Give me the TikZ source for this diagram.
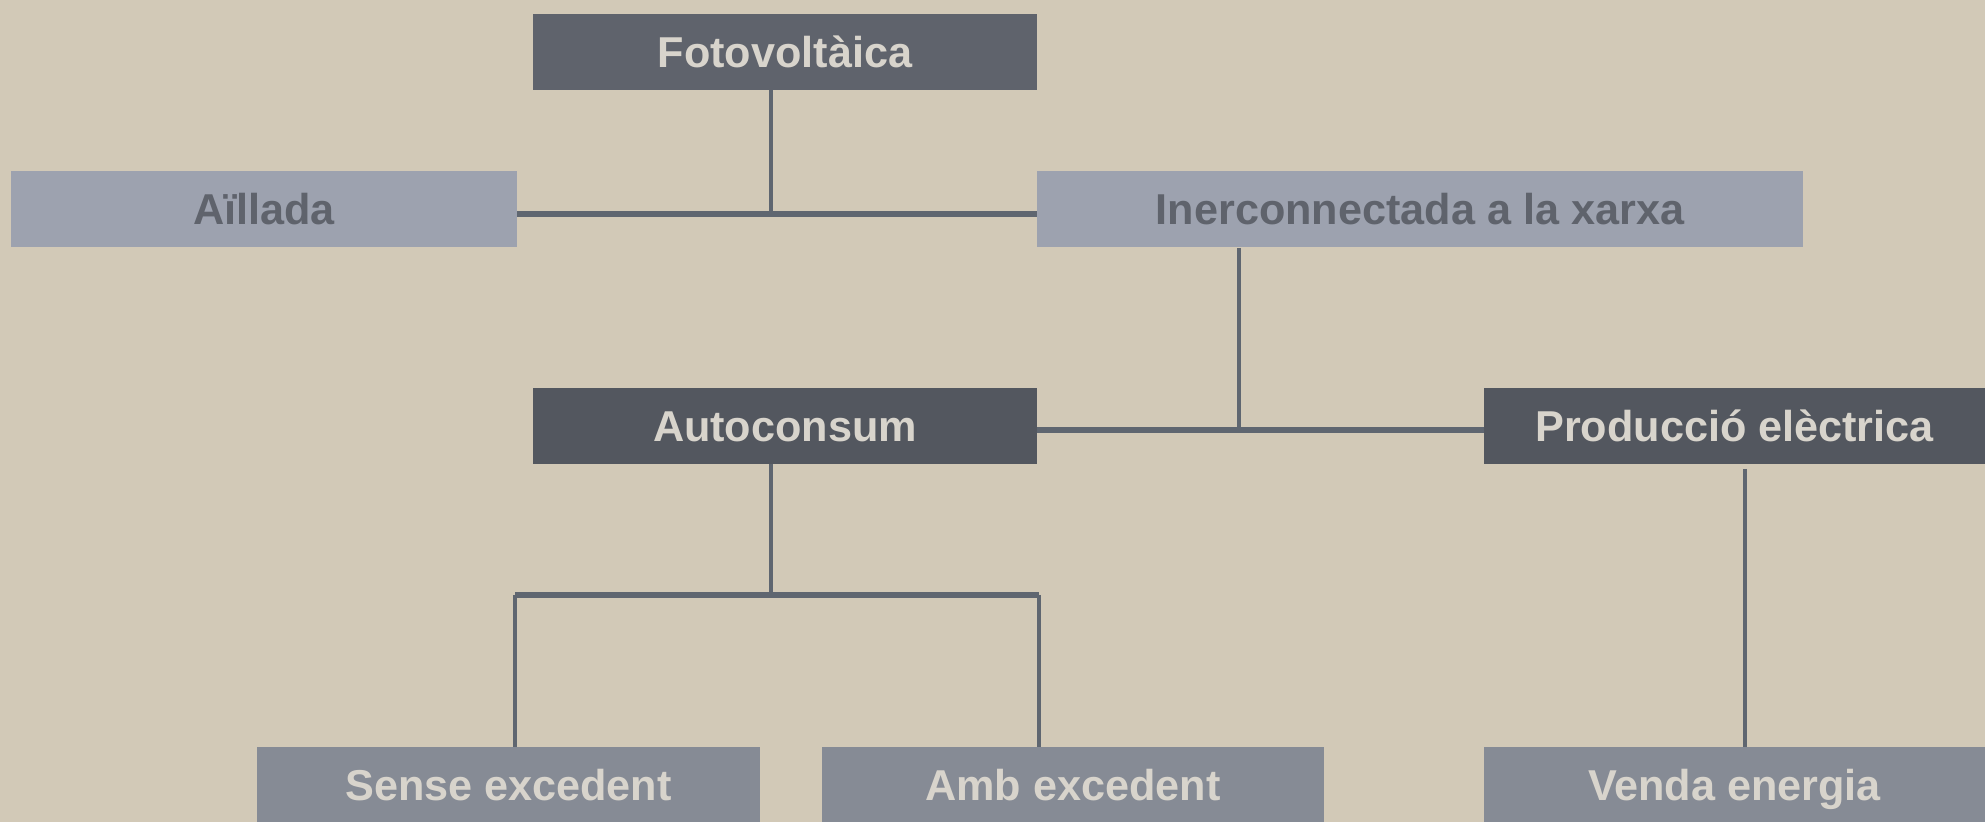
\documentclass[tikz,border=0pt]{standalone}
\usepackage{fontspec}
\setmainfont{Liberation Sans}
\definecolor{bg}{HTML}{D2C9B7}
\definecolor{darkA}{HTML}{5F636C}
\definecolor{darkB}{HTML}{53575F}
\definecolor{lightbox}{HTML}{9DA2AF}
\definecolor{midbox}{HTML}{868B95}
\definecolor{lighttext}{HTML}{D8D4CC}
\definecolor{linec}{HTML}{5F6670}
\begin{document}
\begin{tikzpicture}[x=0.5pt,y=-0.5pt,
  box/.style={rectangle,inner sep=0pt,minimum height=38pt,text height=15.5pt,text depth=0pt,font=\fontsize{21.6}{24}\selectfont\bfseries},
  topbox/.style={box,fill=darkA,text=lighttext},
  darkbox/.style={box,fill=darkB,text=lighttext},
  lbox/.style={box,fill=lightbox,text=darkA},
  mbox/.style={box,fill=midbox,text=lighttext},
  hline/.style={draw=linec,line width=2.6pt},
  vline/.style={draw=linec,line width=2pt}]
\fill[bg] (0,0) rectangle (1985,822);
\useasboundingbox (0,0) rectangle (1985,822);
\node[topbox,minimum width=252pt] (foto) at (785,52) {Fotovoltàica};
\node[lbox,minimum width=253pt] (aill) at (264,209.5) {Aïllada};
\node[lbox,minimum width=383pt] (iner) at (1420,209.5) {Inerconnectada a la xarxa};
\node[darkbox,minimum width=252pt] (auto) at (785,426) {Autoconsum};
\node[darkbox,minimum width=250.5pt] (prod) at (1734.5,426) {Producció elèctrica};
\node[mbox,minimum width=251.5pt] (sense) at (508.5,785) {Sense excedent};
\node[mbox,minimum width=251pt] (amb) at (1073,785) {Amb excedent};
\node[mbox,minimum width=250.5pt] (venda) at (1734.5,785) {Venda energia};
\coordinate (j1) at (771,214);
\coordinate (j2) at (1239,430);
\coordinate (j3) at (771,595);
\coordinate (jl) at (515,595);
\coordinate (jr) at (1039,595);
\coordinate (pv) at (1745,469);
\draw[vline] (foto.south -| j1) -- (j1);
\draw[hline] (aill.east |- j1) -- (iner.west |- j1);
\draw[vline] (iner.south -| j2) -- (j2);
\draw[hline] (auto.east |- j2) -- (prod.west |- j2);
\draw[vline] (auto.south -| j3) -- (j3);
\draw[hline] (jl) -- (jr);
\draw[vline] (jl) -- (sense.north -| jl);
\draw[vline] (jr) -- (amb.north -| jr);
\draw[vline] (pv) -- (venda.north -| pv);
\end{tikzpicture}
\end{document}
